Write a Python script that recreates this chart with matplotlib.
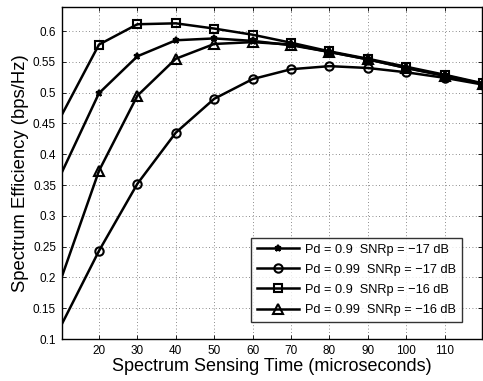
import matplotlib
matplotlib.use("Agg")
import matplotlib.pyplot as plt

plt.rcParams['font.family'] = ['Liberation Sans', 'DejaVu Sans']

sensing_time = [10, 20, 30, 40, 50, 60, 70, 80, 90, 100, 110, 120]
eff_pd09_snr17 = [0.366, 0.499, 0.559, 0.585, 0.588, 0.584, 0.577, 0.566, 0.554, 0.540, 0.528, 0.514]
eff_pd099_snr17 = [0.120, 0.243, 0.352, 0.435, 0.490, 0.522, 0.538, 0.543, 0.540, 0.533, 0.524, 0.513]
eff_pd09_snr16 = [0.460, 0.578, 0.611, 0.6125, 0.604, 0.594, 0.581, 0.567, 0.555, 0.542, 0.529, 0.515]
eff_pd099_snr16 = [0.195, 0.373, 0.495, 0.555, 0.579, 0.582, 0.578, 0.566, 0.554, 0.540, 0.527, 0.514]

labels = ['Pd = 0.9  SNRp = \u221217 dB', 'Pd = 0.99  SNRp = \u221217 dB',
          'Pd = 0.9  SNRp = \u221216 dB', 'Pd = 0.99  SNRp = \u221216 dB']
xticks = [20, 30, 40, 50, 60, 70, 80, 90, 100, 110]
yticks = [0.1, 0.15, 0.2, 0.25, 0.3, 0.35, 0.4, 0.45, 0.5, 0.55, 0.6]
ytick_labels = ['0.1', '0.15', '0.2', '0.25', '0.3', '0.35', '0.4', '0.45', '0.5', '0.55', '0.6']

fig = plt.figure(figsize=(4.83, 3.81), dpi=100)
ax = fig.add_axes([0.1277, 0.1102, 0.8703, 0.8706])

series = [eff_pd09_snr17, eff_pd099_snr17, eff_pd09_snr16, eff_pd099_snr16]
markers = ['*', 'o', 's', '^']
msizes = [5, 6, 6, 7]
for ys, m, ms, lab in zip(series, markers, msizes, labels):
    ax.plot(sensing_time, ys, color='black', lw=1.8, marker=m, ms=ms,
            mfc='none' if m != '*' else 'black', mec='black', mew=1.5,
            markevery=slice(1, None), label=lab)

ax.set_xlim(10.3, 119.7)
ax.set_ylim(0.1, 0.6385)
ax.set_xticks(xticks)
ax.set_yticks(yticks)
ax.set_yticklabels(ytick_labels)
ax.tick_params(direction='in', top=True, right=True, labelsize=8.5, length=3, width=0.6, pad=4)
ax.grid(True, linestyle=(0, (1, 3)), color='#666666', linewidth=0.6)
for s in ax.spines.values():
    s.set_linewidth(1.0)

ax.set_xlabel('Spectrum Sensing Time (microseconds)', fontsize=13, labelpad=1)
ax.set_ylabel('Spectrum Efficiency (bps/Hz)', fontsize=13.3, labelpad=3)

leg = ax.legend(loc='lower right', bbox_to_anchor=(0.952, 0.052), fontsize=9.2,
                frameon=True, fancybox=False, edgecolor='black', handlelength=3.3,
                borderpad=0.45, labelspacing=0.63, handletextpad=0.45, borderaxespad=0)
leg.get_frame().set_linewidth(1.0)

fig.savefig('out.png', dpi=100)
